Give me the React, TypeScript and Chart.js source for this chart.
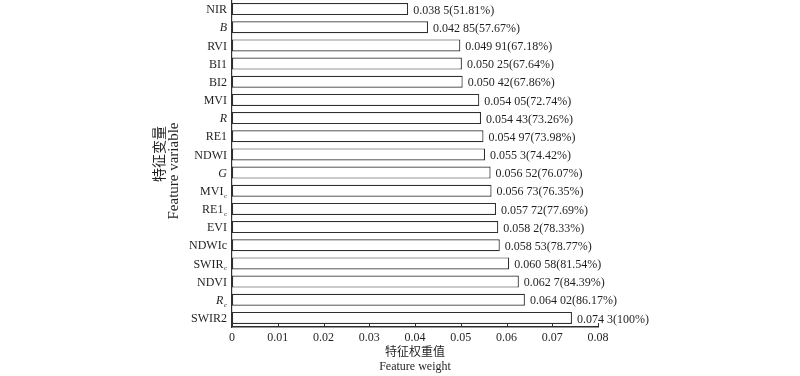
import React, { useEffect, useRef } from "react";
import { Chart, registerables } from "chart.js";

Chart.register(...registerables);

// ---- data ----
const categories = [
  "NIR", "B", "RVI", "BI1", "BI2", "MVI", "R", "RE1", "NDWI", "G",
  "MVI_c", "RE1_c", "EVI", "NDWIc", "SWIR_c", "NDVI", "R_c", "SWIR2",
];
const italicLabels = ["B", "R", "G", "R_c"];
const weights = [
  0.0385, 0.04285, 0.04991, 0.05025, 0.05042, 0.05405, 0.05443, 0.05497, 0.0553,
  0.05652, 0.05673, 0.05772, 0.0582, 0.05853, 0.06058, 0.0627, 0.06402, 0.0743,
];
const percents = [
  51.81, 57.67, 67.18, 67.64, 67.86, 72.74, 73.26, 73.98, 74.42,
  76.07, 76.35, 77.69, 78.33, 78.77, 81.54, 84.39, 86.17, 100,
];
const xTicks = [0, 0.01, 0.02, 0.03, 0.04, 0.05, 0.06, 0.07, 0.08];
const xTickLabels = ["0", "0.01", "0.02", "0.03", "0.04", "0.05", "0.06", "0.07", "0.08"];
const xTitle = ["特征权重值", "Feature weight"];
const yTitle = ["特征变量", "Feature variable"];

// ---- styles ----
const SERIF = '"Liberation Serif", "Noto Sans CJK SC", serif';
const TEXT = "#231f20";
const LINE = "#2f2f2f";

function formatWeight(v: number): string {
  const s = String(v);
  const head = s.slice(0, 5);
  const tail = s.slice(5);
  return tail ? `${head} ${tail}` : head;
}
function formatPercent(p: number): string {
  return p === 100 ? "100" : p.toFixed(2);
}

const overlay = {
  id: "overlay",
  afterDraw(chart: any) {
    const { ctx, chartArea } = chart;
    const x = chart.scales.x;
    const y = chart.scales.y;
    ctx.save();

    // inward tick marks on x axis
    ctx.strokeStyle = LINE;
    ctx.lineWidth = 1;
    xTicks.forEach((v) => {
      const px = Math.round(x.getPixelForValue(v)) + 0.5;
      ctx.beginPath();
      ctx.moveTo(px, chartArea.bottom);
      ctx.lineTo(px, chartArea.bottom - 4);
      ctx.stroke();
    });

    ctx.fillStyle = TEXT;
    ctx.textBaseline = "middle";

    // y category labels (with italic and subscript)
    categories.forEach((lab, i) => {
      const py = y.getPixelForValue(i);
      const [base, sub] = lab.split("_");
      const it = italicLabels.includes(lab) ? "italic " : "";
      let xr = chartArea.left - 5;
      ctx.textAlign = "right";
      if (sub) {
        ctx.font = `${it}7px ${SERIF}`;
        ctx.fillText(sub, xr, py + 5);
        xr -= ctx.measureText(sub).width + 0.5;
      }
      ctx.font = `${it}12px ${SERIF}`;
      ctx.fillText(base, xr, py + 1);
    });

    // value labels
    ctx.textAlign = "left";
    ctx.font = `12px ${SERIF}`;
    weights.forEach((v, i) => {
      const py = y.getPixelForValue(i);
      const px = x.getPixelForValue(v) + 5;
      ctx.fillText(`${formatWeight(v)}(${formatPercent(percents[i])}%)`, px, py + 1.5);
    });

    // x title
    ctx.textAlign = "center";
    const cx = (chartArea.left + chartArea.right) / 2;
    ctx.font = `12px ${SERIF}`;
    ctx.fillText(xTitle[0], cx, 353);
    ctx.fillText(xTitle[1], cx, 367);

    // y title (rotated)
    ctx.save();
    ctx.translate(160, 154);
    ctx.rotate(-Math.PI / 2);
    ctx.font = `14px ${SERIF}`;
    ctx.fillText(yTitle[0], 0, 0);
    ctx.restore();
    ctx.save();
    ctx.translate(174, 171);
    ctx.rotate(-Math.PI / 2);
    ctx.font = `15px ${SERIF}`;
    ctx.fillText(yTitle[1], 0, 0);
    ctx.restore();

    ctx.restore();
  },
};

export default function App() {
  const ref = useRef<HTMLCanvasElement | null>(null);
  useEffect(() => {
    if (!ref.current) return;
    const chart = new Chart(ref.current, {
      type: "bar",
      data: {
        labels: categories,
        datasets: [
          {
            data: weights,
            backgroundColor: "#ffffff",
            borderColor: LINE,
            borderWidth: 1.2,
            borderSkipped: false,
            barPercentage: 0.66,
            categoryPercentage: 1,
          },
        ],
      },
      options: {
        indexAxis: "y",
        responsive: false,
        animation: false,
        layout: { padding: { top: 0, right: 202, left: 0, bottom: 0 } },
        plugins: { legend: { display: false }, tooltip: { enabled: false } },
        scales: {
          x: {
            type: "linear",
            min: 0,
            max: 0.08,
            afterBuildTicks: (s: any) => {
              s.ticks = xTicks.map((v) => ({ value: v }));
            },
            ticks: {
              font: { family: SERIF, size: 12 },
              color: TEXT,
              padding: 4,
              maxRotation: 0,
              callback: (_v: any, i: number) => xTickLabels[i],
            },
            grid: { display: false, drawTicks: false },
            border: { display: true, color: LINE, width: 1.5 },
            afterFit: (s: any) => {
              s.height = 49;
            },
          },
          y: {
            type: "category",
            ticks: { display: false },
            grid: { display: false, drawTicks: false },
            border: { display: true, color: LINE, width: 1.2 },
            afterFit: (s: any) => {
              s.width = 232;
            },
          },
        },
      },
      plugins: [overlay],
    } as any);
    return () => chart.destroy();
  }, []);
  return (
    <div style={{ position: "absolute", left: 0, top: 0, width: 800, height: 376, background: "#fff" }}>
      <canvas ref={ref} width={800} height={376} style={{ display: "block" }} />
    </div>
  );
}
